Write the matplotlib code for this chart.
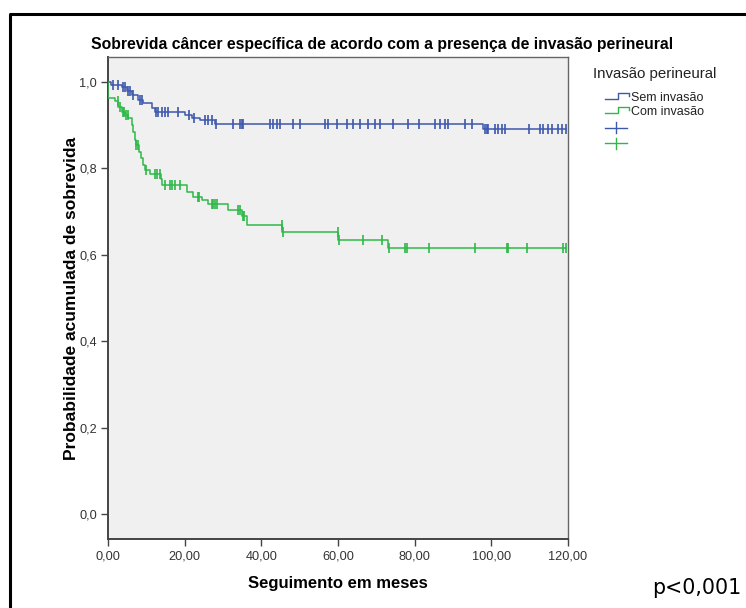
import matplotlib
import numpy as np

matplotlib.use("Agg")
import matplotlib.pyplot as plt
from matplotlib.lines import Line2D

plt.rcParams["font.family"] = ["Liberation Sans", "DejaVu Sans"]

# Kaplan-Meier steps (months, cumulative survival)
sem_times = [0, 0.8, 3.6, 4.9, 6.2, 7.9, 9.2, 11.4, 12.3, 20.1, 21.8, 24.0, 27.9, 97.9]
sem_surv = [1.0, 0.993, 0.988, 0.980, 0.970, 0.959, 0.951, 0.939, 0.931, 0.923, 0.916, 0.911, 0.902, 0.892]
sem_censor = [1.4, 2.7, 4.0, 4.4, 5.3, 5.7, 6.6, 8.3, 8.8, 12.6, 13.1, 14.0, 14.9, 15.7, 18.3,
              21.0, 22.4, 25.3, 26.2, 27.0, 28.3, 32.7, 34.4, 34.9, 35.3, 42.3, 43.1, 44.0, 44.9,
              48.3, 50.1, 56.6, 57.5, 59.7, 62.3, 64.0, 65.7, 67.9, 69.7, 71.0, 74.4, 78.3, 81.0,
              85.3, 86.6, 87.9, 88.8, 93.1, 94.9, 98.4, 98.8, 99.2, 101.0, 101.8, 102.7, 103.6,
              109.7, 112.7, 113.6, 114.9, 115.8, 117.5, 118.4, 119.6]

com_times = [0, 0.05, 1.8, 2.7, 3.6, 4.4, 5.3, 6.2, 6.6, 7.0, 7.3, 8.0, 8.6, 9.2, 9.7, 11.0,
             13.8, 14.2, 20.5, 22.3, 24.4, 26.2, 31.3, 34.9, 36.2, 45.5, 60.1, 73.1]
com_surv = [1.0, 0.962, 0.955, 0.943, 0.931, 0.924, 0.916, 0.900, 0.885, 0.866, 0.854, 0.839,
            0.823, 0.808, 0.796, 0.788, 0.775, 0.761, 0.745, 0.734, 0.726, 0.718, 0.703, 0.691,
            0.669, 0.652, 0.635, 0.615]
com_censor = [2.6, 3.1, 3.9, 4.2, 4.6, 5.2, 7.4, 7.7, 10.0, 12.3, 12.9, 13.6, 14.9, 16.2, 16.6,
              17.5, 18.8, 23.4, 23.8, 27.0, 27.5, 28.0, 28.4, 34.0, 34.4, 35.3, 35.6, 45.3, 45.7,
              60.0, 60.3, 66.6, 71.4, 73.2, 77.5, 77.9, 83.8, 95.7, 104.0, 104.4, 109.4, 118.6, 119.6]

x_ticks = [0, 20, 40, 60, 80, 100, 120]
x_labels = ["0,00", "20,00", "40,00", "60,00", "80,00", "100,00", "120,00"]
y_ticks = [0.0, 0.2, 0.4, 0.6, 0.8, 1.0]
y_labels = ["0,0", "0,2", "0,4", "0,6", "0,8", "1,0"]

BLUE = "#3e58ac"
GREEN = "#2eb848"
W, H = 746, 608


def km_curve(ax, times, surv, censor, color):
    t = list(times) + [max(censor)]
    s = list(surv) + [surv[-1]]
    ax.step(t, s, where="post", color=color, lw=1.1, zorder=3)
    idx = np.searchsorted(times, censor, side="right") - 1
    ax.plot(censor, np.asarray(surv)[idx], ls="none", marker="|", ms=6.5,
            mew=1.2, color=color, zorder=4)


fig = plt.figure(figsize=(W / 100, H / 100), dpi=100)
ax = fig.add_axes([108 / W, 1 - 539 / H, 460 / W, 482 / H])
ax.set_facecolor("#f0f0f0")

km_curve(ax, sem_times, sem_surv, sem_censor, BLUE)
km_curve(ax, com_times, com_surv, com_censor, GREEN)

ax.set_xlim(0, 120)
ax.set_ylim(-0.058, 1.058)
ax.set_xticks(x_ticks)
ax.set_xticklabels(x_labels)
ax.set_yticks(y_ticks)
ax.set_yticklabels(y_labels)
ax.tick_params(direction="out", length=5, width=1, colors="#444444",
               labelsize=9.2, labelcolor="#333333", pad=3)
for side in ["left", "bottom"]:
    ax.spines[side].set_color("#444444")
    ax.spines[side].set_linewidth(1.4)
for side in ["top", "right"]:
    ax.spines[side].set_color("#666666")
    ax.spines[side].set_linewidth(1.0)

ax.set_xlabel("Seguimento em meses", fontsize=12, fontweight="bold", labelpad=10)
ax.set_ylabel("Probabilidade acumulada de sobrevida", fontsize=12.5, fontweight="bold", labelpad=0)

fig.text(382 / W, 1 - 45 / H, "Sobrevida câncer específica de acordo com a presença de invasão perineural",
         ha="center", va="center", fontsize=11.3, fontweight="bold")

# overlay in pixel coordinates for legend, border and p-value
ov = fig.add_axes([0, 0, 1, 1], facecolor="none")
ov.set_xlim(0, W)
ov.set_ylim(H, 0)
ov.axis("off")

ov.add_line(Line2D([9.5, 9.5, W], [H, 14, 14], color="black", lw=2.2))

ov.text(593, 74, "Invasão perineural", fontsize=10.8, ha="left", va="center", color="#222222")
for y0, color, label in [(99.3, BLUE, "Sem invasão"), (113.3, GREEN, "Com invasão")]:
    ov.add_line(Line2D([605, 618, 618, 628.5, 628.5], [y0, y0, y0 - 6, y0 - 6, y0 - 3.5],
                       color=color, lw=1.0))
    ov.text(631, y0 - 1.5, label, fontsize=9, ha="left", va="center", color="#222222")
for y0, color in [(127.7, BLUE), (143, GREEN)]:
    ov.add_line(Line2D([605, 627], [y0, y0], color=color, lw=1.0))
    ov.add_line(Line2D([616, 616], [y0 - 5.5, y0 + 5.5], color=color, lw=1.0))

ov.text(741, 588, "p<0,001", fontsize=14.8, family="DejaVu Sans",
        ha="right", va="center", color="black")

fig.savefig("out.png", dpi=100)
